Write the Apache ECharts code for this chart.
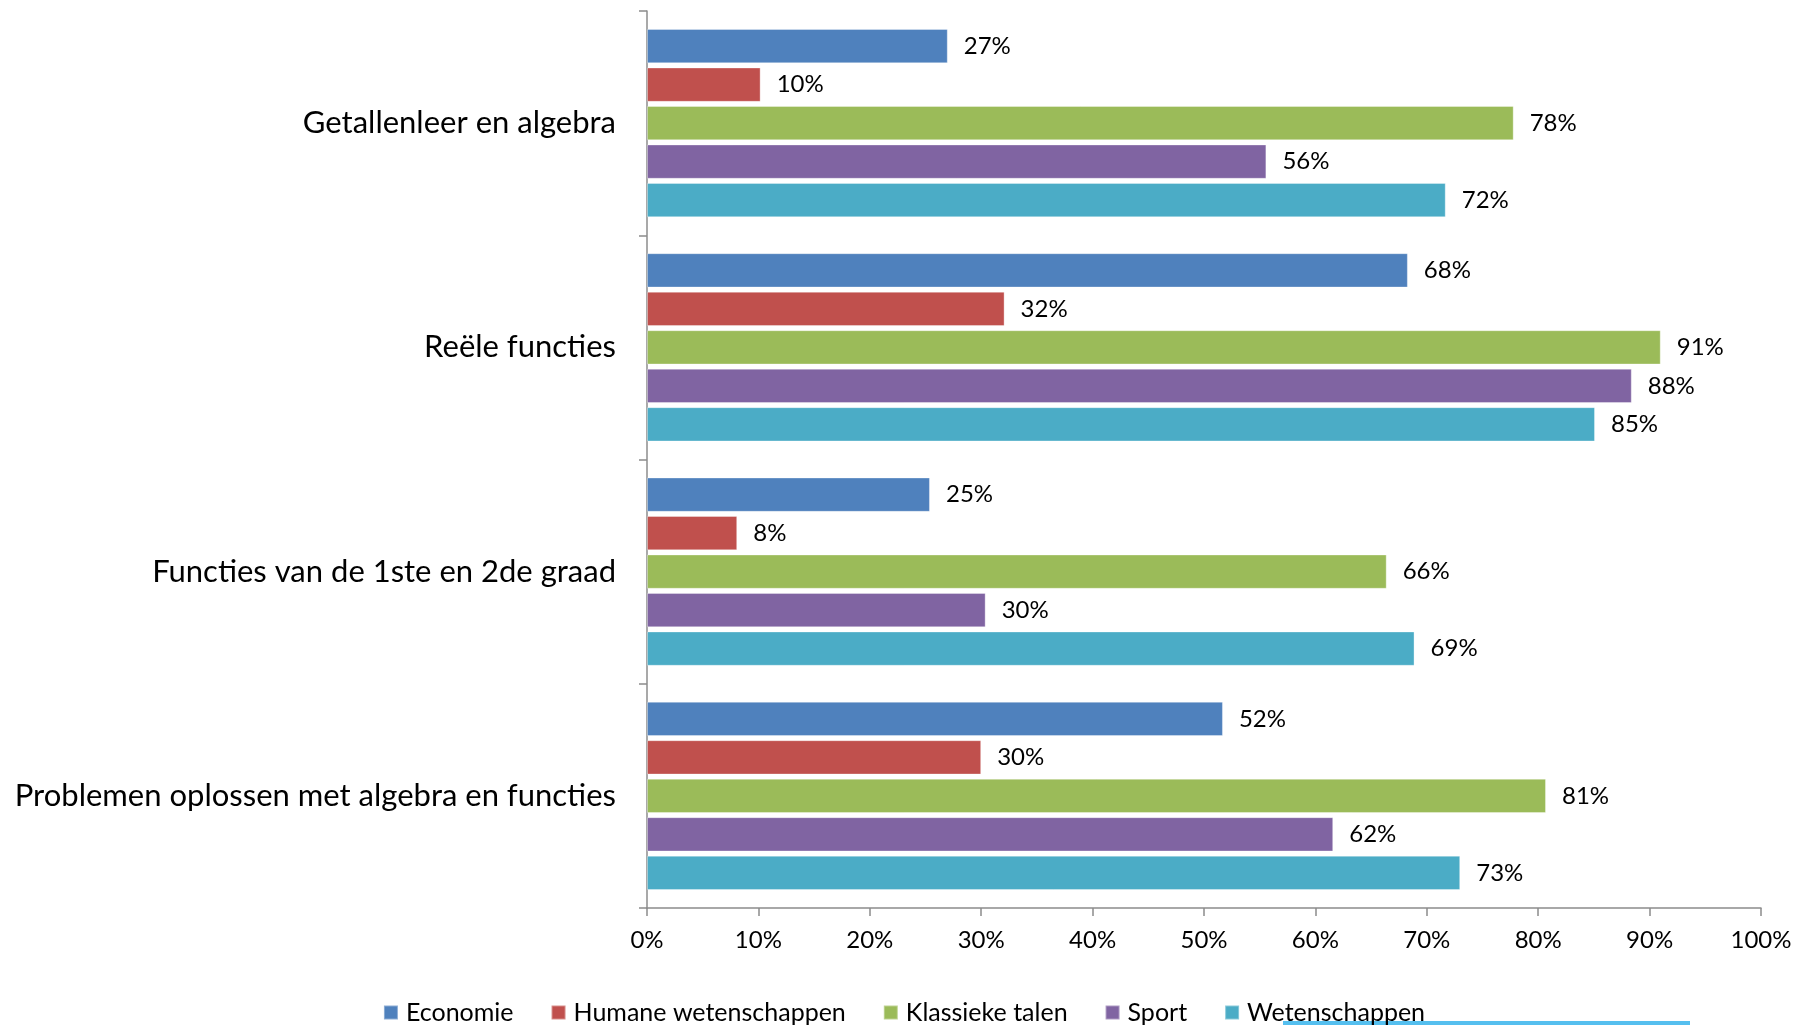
<!DOCTYPE html>
<html>
<head>
<meta charset="utf-8">
<script src="https://cdn.jsdelivr.net/npm/echarts@6/dist/echarts.min.js"></script>
<style>
html,body{margin:0;padding:0;background:#fff;}
#chart{width:1808px;height:1025px;}
</style>
</head>
<body>
<div id="chart"></div>
<script>
const categories = ["Getallenleer en algebra", "Reële functies", "Functies van de 1ste en 2de graad", "Problemen oplossen met algebra en functies"];
const seriesNames = ["Economie", "Humane wetenschappen", "Klassieke talen", "Sport", "Wetenschappen"];
const economie = [27.0, 68.3, 25.4, 51.7];
const humane = [10.2, 32.1, 8.1, 30.0];
const klassieke = [77.8, 91.0, 66.4, 80.7];
const sport = [55.6, 88.4, 30.4, 61.6];
const wetenschappen = [71.7, 85.1, 68.9, 73.0];
const xTicks = [0, 10, 20, 30, 40, 50, 60, 70, 80, 90, 100];
const colors = ["#4F81BD", "#C0504D", "#9BBB59", "#8064A2", "#4BACC6"];

const FONT = "Lato";
const values = [economie, humane, klassieke, sport, wetenschappen];

const chart = echarts.init(document.getElementById('chart'));
chart.setOption({
  animation: false,
  textStyle: { fontFamily: FONT, color: '#000' },
  grid: { left: 647, right: 47, top: 11, bottom: 117, containLabel: false },
  legend: {
    data: seriesNames,
    top: 995,
    left: 'center',
    icon: 'rect',
    itemWidth: 14,
    itemHeight: 14,
    itemGap: 37,
    textStyle: { fontFamily: FONT, fontSize: 25, color: '#000', padding: [0, 0, 0, 3] }
  },
  xAxis: {
    type: 'value',
    min: xTicks[0],
    max: xTicks[xTicks.length - 1],
    interval: 10,
    axisLine: { show: true, lineStyle: { color: '#8c8c8c', width: 1.5 } },
    axisTick: { show: true, length: 8, lineStyle: { color: '#8c8c8c', width: 1.5 } },
    splitLine: { show: false },
    axisLabel: { formatter: '{value}%', fontFamily: FONT, fontSize: 24, color: '#000', margin: 20 }
  },
  yAxis: {
    type: 'category',
    inverse: true,
    data: categories,
    axisLine: { show: true, lineStyle: { color: '#8c8c8c', width: 1.5 } },
    axisTick: { show: true, length: 8, lineStyle: { color: '#8c8c8c', width: 1.5 } },
    axisLabel: { fontFamily: FONT, fontSize: 31, color: '#000', margin: 31 }
  },
  series: seriesNames.map((name, i) => ({
    name: name,
    type: 'bar',
    data: values[i],
    barCategoryGap: '16%',
    barGap: '12%',
    itemStyle: { color: colors[i], borderColor: 'rgba(255,255,255,0.35)', borderWidth: 1 },
    label: {
      show: true,
      position: 'right',
      distance: 16,
      fontFamily: FONT,
      fontSize: 24,
      color: '#000',
      formatter: p => Math.round(p.value) + '%'
    }
  })),
  graphic: [
    { type: 'rect', left: 1283, top: 1021, shape: { width: 407, height: 4 }, style: { fill: '#55BFEF' }, silent: true }
  ]
});
</script>
</body>
</html>
